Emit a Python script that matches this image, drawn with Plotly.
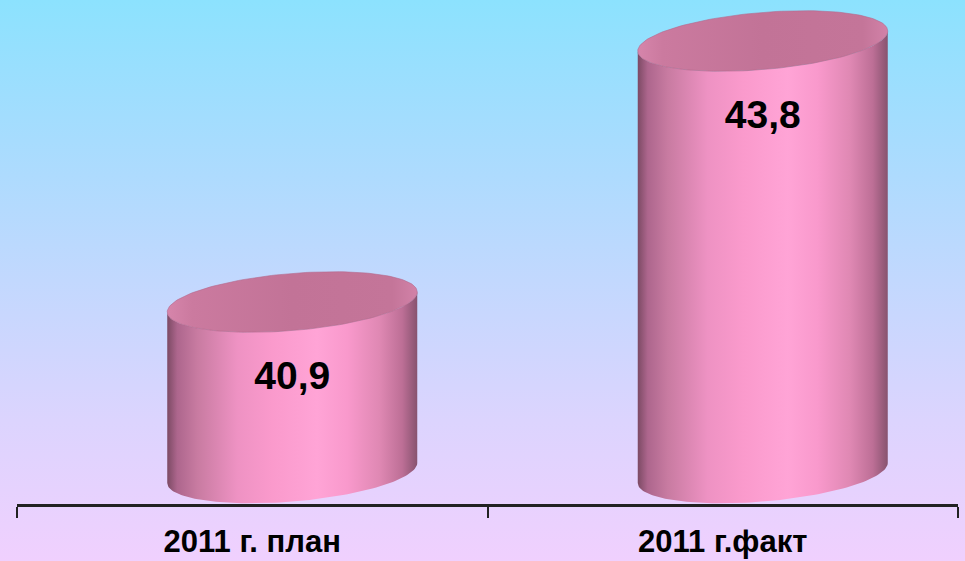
import numpy as np
import plotly.graph_objects as go

# ---- data ----
categories = ["2011 г. план", "2011 г.факт"]
values = [40.9, 43.8]
value_labels = ["40,9", "43,8"]
axis_base = 39.0          # value at which the cylinders start

# ---- layout geometry (pixels) ----
W, H = 965, 561
PLOT_L, PLOT_R = 17, 958          # x pixels of the category axis
AXIS_Y = 504                      # pixel row of the axis line (from top)
BASE_Y = 473                      # pixel row of the cylinder base centre
PX_PER_UNIT = 90.0                # vertical pixels per value unit
PX_PER_CAT = (PLOT_R - PLOT_L) / 2.0

y_lo = axis_base - (AXIS_Y - BASE_Y) / PX_PER_UNIT
y_hi = axis_base + BASE_Y / PX_PER_UNIT

# cylinder look (converted from pixels to axis units)
half_w = 125 / PX_PER_CAT
ell_b = 28.6 / PX_PER_UNIT
ell_shear = 10 / PX_PER_UNIT
x_shift = 40 / PX_PER_CAT
label_drop = 0.86

body_scale = [
    [0.00, "#7c4a64"], [0.04, "#ad668d"], [0.12, "#c87ba1"],
    [0.28, "#ee92c3"], [0.42, "#fa9acc"], [0.60, "#ffa4d6"],
    [0.72, "#f999cc"], [0.85, "#df88b3"], [0.94, "#bd6f96"],
    [1.00, "#87536f"],
]
top_scale = [
    [0.00, "#d685ab"], [0.10, "#cb7a9f"], [0.50, "#c27397"],
    [0.90, "#c47599"], [1.00, "#d282a8"],
]
bg_scale = [
    [0.00, "#f0d0fe"], [0.25, "#dcd4fe"], [0.50, "#c2d8fe"],
    [0.75, "#a7dcfe"], [1.00, "#8ce2fe"],
]

fig = go.Figure()

# background gradient over the whole page
fig.add_trace(go.Scatter(
    x=[0, 1, 1, 0, 0], y=[0, 0, 1, 1, 0], mode="lines",
    line=dict(width=0), fill="toself",
    fillgradient=dict(type="vertical", colorscale=bg_scale),
    hoverinfo="skip", xaxis="x", yaxis="y", showlegend=False,
))

t_front = np.linspace(np.pi, 2 * np.pi, 80)
t_full = np.linspace(0, 2 * np.pi, 160)

for i, (cat, v, lab) in enumerate(zip(categories, values, value_labels)):
    cx = i + x_shift
    # body: bottom front arc (left->right), then top front arc (right->left)
    bx = cx + half_w * np.cos(t_front)
    by = axis_base + ell_b * np.sin(t_front) + ell_shear * np.cos(t_front)
    tx = cx + half_w * np.cos(t_front[::-1])
    ty = v + ell_b * np.sin(t_front[::-1]) + ell_shear * np.cos(t_front[::-1])
    fig.add_trace(go.Scatter(
        x=np.concatenate([bx, tx, bx[:1]]),
        y=np.concatenate([by, ty, by[:1]]),
        mode="lines", line=dict(width=0), fill="toself",
        fillgradient=dict(type="horizontal", colorscale=body_scale),
        hoverinfo="skip", xaxis="x2", yaxis="y2", showlegend=False,
    ))
    # top ellipse
    fig.add_trace(go.Scatter(
        x=cx + half_w * np.cos(t_full),
        y=v + ell_b * np.sin(t_full) + ell_shear * np.cos(t_full),
        mode="lines", line=dict(width=0.6, color="#b4688c"), fill="toself",
        fillgradient=dict(type="horizontal", colorscale=top_scale),
        hoverinfo="skip", xaxis="x2", yaxis="y2", showlegend=False,
    ))
    # value label
    fig.add_trace(go.Scatter(
        x=[cx], y=[v - label_drop], mode="text", text=[lab],
        textfont=dict(family="Liberation Sans, Arial, sans-serif",
                      size=39, color="#000000", weight="bold"),
        hoverinfo="skip", xaxis="x2", yaxis="y2", showlegend=False,
    ))

fig.update_layout(
    width=W, height=H, autosize=False,
    margin=dict(l=0, r=0, t=0, b=0),
    paper_bgcolor="#dcd4fe", plot_bgcolor="rgba(0,0,0,0)",
    showlegend=False,
    xaxis=dict(domain=[0, 1], range=[0, 1], visible=False, fixedrange=True),
    yaxis=dict(domain=[0, 1], range=[0, 1], visible=False, fixedrange=True),
    xaxis2=dict(
        domain=[PLOT_L / W, PLOT_R / W], range=[-0.5, 1.5], anchor="y2",
        tickmode="array", tickvals=[0, 1], ticktext=categories,
        ticks="", showgrid=False, zeroline=False,
        showline=True, linecolor="#222222", linewidth=2.5,
        ticklabelstandoff=8,
        tickfont=dict(family="Liberation Sans, Arial, sans-serif",
                      size=31, color="#000000", weight="bold"),
        minor=dict(tickmode="array", tickvals=[-0.5, 0.5, 1.5],
                   ticks="outside", ticklen=11, tickwidth=2,
                   tickcolor="#222222", showgrid=False),
        automargin=False, fixedrange=True,
    ),
    yaxis2=dict(
        domain=[(H - AXIS_Y) / H, 1], range=[y_lo, y_hi], anchor="x2",
        showticklabels=False, ticks="", showgrid=False, zeroline=False,
        showline=False, automargin=False, fixedrange=True,
    ),
)

fig.write_html(
    "out.html",
    config={"displayModeBar": False},
    post_script="document.body.style.margin='0';document.body.style.overflow='hidden';",
)
